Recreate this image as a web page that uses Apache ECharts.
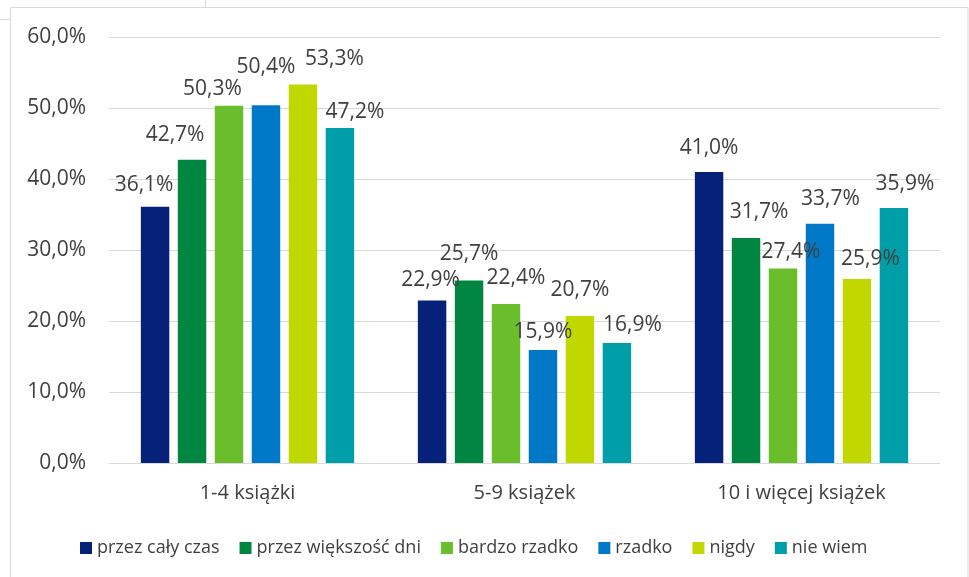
<!DOCTYPE html>
<html><head><meta charset="utf-8">
<script src="https://cdn.jsdelivr.net/npm/echarts@6/dist/echarts.min.js"></script>
<style>html,body{margin:0;padding:0;background:#fff}#c{width:969px;height:577px}</style>
</head><body><div id="c"></div>
<script>
const categories = ['1-4 książki', '5-9 książek', '10 i więcej książek'];
const seriesNames = ['przez cały czas', 'przez większość dni', 'bardzo rzadko', 'rzadko', 'nigdy', 'nie wiem'];
const przezCalyCzas = [36.1, 22.9, 41.0];
const przezWiekszoscDni = [42.7, 25.7, 31.7];
const bardzoRzadko = [50.3, 22.4, 27.4];
const rzadko = [50.4, 15.9, 33.7];
const nigdy = [53.3, 20.7, 25.9];
const nieWiem = [47.2, 16.9, 35.9];
const yTicks = [0, 10, 20, 30, 40, 50, 60];

const values = [przezCalyCzas, przezWiekszoscDni, bardzoRzadko, rzadko, nigdy, nieWiem];
const colors = ['#06217A', '#008641', '#6ABD2B', '#0078C8', '#C1D700', '#009EA8'];
// label nudges (dx, dy) per series per category, mirroring the reference placement
const labelShift = [
  [[-11,-6],[-1.5,-5],[0,-8]],
  [[-17,-9],[0,-11],[13,-10.5]],
  [[-16.5,-1],[10,-10.5],[8,-1]],
  [[0,-22.5],[0,-2.5],[10.5,-9]],
  [[31.5,-10.5],[0,-10.5],[13.5,-4.5]],
  [[15,0],[15.5,-2.5],[11,-9]]
];
const fmt = v => v.toFixed(1).replace('.', ',') + '%';
const FONT = '"Open Sans", "Noto Sans", sans-serif';
const chart = echarts.init(document.getElementById('c'), null, {renderer: 'canvas'});
chart.setOption({
  backgroundColor: '#ffffff',
  animation: false,
  textStyle: {fontFamily: FONT},
  graphic: [
    {type: 'rect', shape: {x: 10.5, y: 7.5, width: 957.5, height: 600}, style: {fill: 'none', stroke: '#D9D9D9', lineWidth: 1}},
    {type: 'line', shape: {x1: 0, y1: 19.5, x2: 10, y2: 19.5}, style: {stroke: '#D9D9D9', lineWidth: 1}},
    {type: 'line', shape: {x1: 205.5, y1: 0, x2: 205.5, y2: 7}, style: {stroke: '#D9D9D9', lineWidth: 1}}
  ],
  grid: {left: 109, right: 29, top: 37, bottom: 114, containLabel: false},
  legend: {
    data: seriesNames,
    left: 75, top: 534,
    itemWidth: 12, itemHeight: 12, itemGap: 20,
    icon: 'rect',
    textStyle: {fontFamily: FONT, fontSize: 18, color: '#404040'}
  },
  xAxis: {
    type: 'category', data: categories,
    axisLine: {lineStyle: {color: '#D9D9D9', width: 1}},
    axisTick: {show: false},
    axisLabel: {fontFamily: FONT, fontSize: 20, color: '#404040', margin: 20}
  },
  yAxis: {
    type: 'value', min: yTicks[0], max: yTicks[yTicks.length - 1], interval: 10,
    axisLine: {show: false}, axisTick: {show: false},
    splitLine: {lineStyle: {color: '#D9D9D9', width: 1}},
    axisLabel: {fontFamily: FONT, fontSize: 21, color: '#404040', margin: 23, formatter: v => fmt(v)}
  },
  series: seriesNames.map((name, s) => ({
    name, type: 'bar',
    barGap: '30%', barCategoryGap: '23%',
    itemStyle: {color: colors[s]},
    data: values[s].map((v, c) => ({
      value: v,
      label: {offset: labelShift[s][c]}
    })),
    label: {
      show: true, position: 'top', distance: 5,
      fontFamily: FONT, fontSize: 21, color: '#404040',
      formatter: p => fmt(p.value)
    }
  }))
});
</script></body></html>
